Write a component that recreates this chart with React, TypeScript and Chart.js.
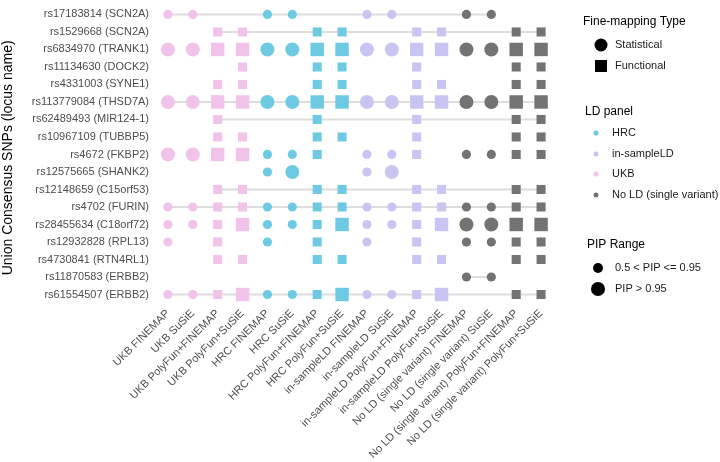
import { useEffect, useRef } from "react";
import { Chart, registerables } from "chart.js";

Chart.register(...registerables);

const snpLabels = [
  "rs17183814 (SCN2A)",
  "rs1529668 (SCN2A)",
  "rs6834970 (TRANK1)",
  "rs11134630 (DOCK2)",
  "rs4331003 (SYNE1)",
  "rs113779084 (THSD7A)",
  "rs62489493 (MIR124-1)",
  "rs10967109 (TUBBP5)",
  "rs4672 (FKBP2)",
  "rs12575665 (SHANK2)",
  "rs12148659 (C15orf53)",
  "rs4702 (FURIN)",
  "rs28455634 (C18orf72)",
  "rs12932828 (RPL13)",
  "rs4730841 (RTN4RL1)",
  "rs11870583 (ERBB2)",
  "rs61554507 (ERBB2)",
];

const ldPanels = ["UKB", "HRC", "in-sampleLD", "No LD (single variant)"];
const methods = ["FINEMAP", "SuSiE", "PolyFun+FINEMAP", "PolyFun+SuSiE"];
const methodTypes = ["Statistical", "Statistical", "Functional", "Functional"];
const panelColors = ["#F1C2EA", "#6DCAE2", "#C8C5F2", "#737373"];
const legendPanelOrder = [1, 2, 0, 3];

// One string per SNP, one char per method column:
// "." = not in credible set, "S" = 0.5 < PIP <= 0.95, "L" = PIP > 0.95
const pipByRow = [
  "SS..SS..SS..SS..",
  "..SS..SS..SS..SS",
  "LLLLLLLLLLLLLLLL",
  "...S..SS..S...SS",
  "..SS..SS..SS..SS",
  "LLLLLLLLLLLLLLLL",
  "..S...S...S...SS",
  "..SS..SS..S...SS",
  "LLLLSSS.SSS.SSSS",
  "....SL..SL......",
  "..SS..SS..SS..SS",
  "SSSSSSSSSSSSSSSS",
  "SSSLSSSLSSSLLLLL",
  "S.S.S.S.S.S.SSSS",
  "..SS..SS..SS..SS",
  "............SS..",
  "SSSLSSSLSSSL..SS",
];

const connectedRows = [
  true, true, false, false, false, true, true, false, false,
  false, true, true, false, false, false, true, true,
];

const columnLabels: string[] = [];
const columnPanel: number[] = [];
const columnType: string[] = [];
ldPanels.forEach((p, pi) => {
  methods.forEach((m, mi) => {
    columnLabels.push(`${p} ${m}`);
    columnPanel.push(pi);
    columnType.push(methodTypes[mi]);
  });
});

const FONT = "'Liberation Sans', Arial, Helvetica, sans-serif";

export default function App() {
  const ref = useRef<HTMLCanvasElement>(null);

  useEffect(() => {
    if (!ref.current) return;

    const points: any[] = [];
    pipByRow.forEach((row, r) => {
      row.split("").forEach((c, col) => {
        if (c === ".") return;
        points.push({
          x: col,
          y: r,
          pip: c,
          panel: columnPanel[col],
          type: columnType[col],
        });
      });
    });

    const lineSets: any[] = [];
    pipByRow.forEach((row, r) => {
      if (!connectedRows[r]) return;
      const cols = row.split("").map((c, i) => (c === "." ? -1 : i)).filter((i) => i >= 0);
      lineSets.push({
        type: "line",
        data: [
          { x: Math.min(...cols), y: r },
          { x: Math.max(...cols), y: r },
        ],
        borderColor: "#DDDDDD",
        borderWidth: 2,
        pointRadius: 0,
        order: 2,
        clip: false,
      });
    });

    const legendPlugin = {
      id: "customLegend",
      afterDraw(chart: any) {
        const ctx = chart.ctx as CanvasRenderingContext2D;
        ctx.save();
        ctx.textBaseline = "middle";
        ctx.textAlign = "left";
        const title = (t: string, x: number, y: number) => {
          ctx.fillStyle = "#000";
          ctx.font = `12px ${FONT}`;
          ctx.fillText(t, x, y);
        };
        const item = (t: string, x: number, y: number) => {
          ctx.fillStyle = "#1a1a1a";
          ctx.font = `11px ${FONT}`;
          ctx.fillText(t, x, y);
        };
        const circle = (x: number, y: number, r: number, c: string) => {
          ctx.fillStyle = c;
          ctx.beginPath();
          ctx.arc(x, y, r, 0, Math.PI * 2);
          ctx.fill();
        };

        title("Fine-mapping Type", 583, 22);
        circle(601, 45, 6.5, "#000");
        item("Statistical", 615, 45);
        ctx.fillStyle = "#000";
        ctx.fillRect(595, 60, 12, 12);
        item("Functional", 615, 66);

        title("LD panel", 585, 112);
        const ldY = [133, 154, 174, 195];
        legendPanelOrder.forEach((pi, k) => {
          circle(596, ldY[k], 2.5, panelColors[pi]);
          item(ldPanels[pi], 612, ldY[k]);
        });

        title("PIP Range", 587, 245);
        circle(598, 268, 5, "#000");
        item("0.5 < PIP <= 0.95", 615, 268);
        circle(598, 289, 7, "#000");
        item("PIP > 0.95", 615, 289);
        ctx.restore();
      },
    };

    const chart = new Chart(ref.current, {
      type: "scatter",
      data: {
        datasets: [
          {
            type: "scatter",
            data: points,
            order: 1,
            clip: false,
            pointStyle: (c: any) => (c.raw && c.raw.type === "Functional" ? "rect" : "circle"),
            pointRadius: (c: any) => {
              const raw = c.raw;
              if (!raw) return 0;
              const big = raw.pip === "L";
              if (raw.type === "Functional") return big ? 9.5 : 6.4;
              return big ? 7 : 4.6;
            },
            pointBackgroundColor: (c: any) => (c.raw ? panelColors[c.raw.panel] : "#000"),
            pointBorderWidth: 0,
            pointHoverRadius: 0,
          } as any,
          ...lineSets,
        ],
      },
      options: {
        animation: false,
        responsive: false,
        maintainAspectRatio: false,
        events: [],
        layout: { padding: { left: 0, top: 0, right: 164, bottom: 0 } },
        plugins: { legend: { display: false }, tooltip: { enabled: false } },
        scales: {
          x: {
            type: "linear",
            min: -0.6,
            max: 15.6,
            grid: { display: false, drawTicks: false },
            border: { display: false },
            afterBuildTicks: (scale: any) => {
              scale.ticks = columnLabels.map((_, i) => ({ value: i }));
            },
            afterFit: (scale: any) => {
              scale.height = 157;
            },
            ticks: {
              autoSkip: false,
              maxRotation: 45,
              minRotation: 45,
              padding: 2,
              color: "#4d4d4d",
              font: { size: 11, family: FONT },
              callback: (v: any) => columnLabels[Math.round(v)] ?? "",
            },
          },
          y: {
            type: "linear",
            reverse: true,
            min: -0.22,
            max: 16.6,
            grid: { display: false, drawTicks: false },
            border: { display: false },
            afterBuildTicks: (scale: any) => {
              scale.ticks = snpLabels.map((_, i) => ({ value: i }));
            },
            afterFit: (scale: any) => {
              scale.width = 153;
            },
            title: {
              display: true,
              text: "Union Consensus SNPs (locus name)",
              color: "#000",
              font: { size: 14, family: FONT },
              padding: { top: 0, bottom: 0 },
            },
            ticks: {
              autoSkip: false,
              padding: 4,
              color: "#4d4d4d",
              font: { size: 11, family: FONT },
              callback: (v: any) => snpLabels[Math.round(v)] ?? "",
            },
          },
        },
      } as any,
      plugins: [legendPlugin],
    });

    return () => chart.destroy();
  }, []);

  return (
    <div style={{ position: "fixed", left: 0, top: 0, width: 720, height: 462, background: "#fff" }}>
      <canvas ref={ref} width={720} height={462} style={{ display: "block" }} />
    </div>
  );
}
